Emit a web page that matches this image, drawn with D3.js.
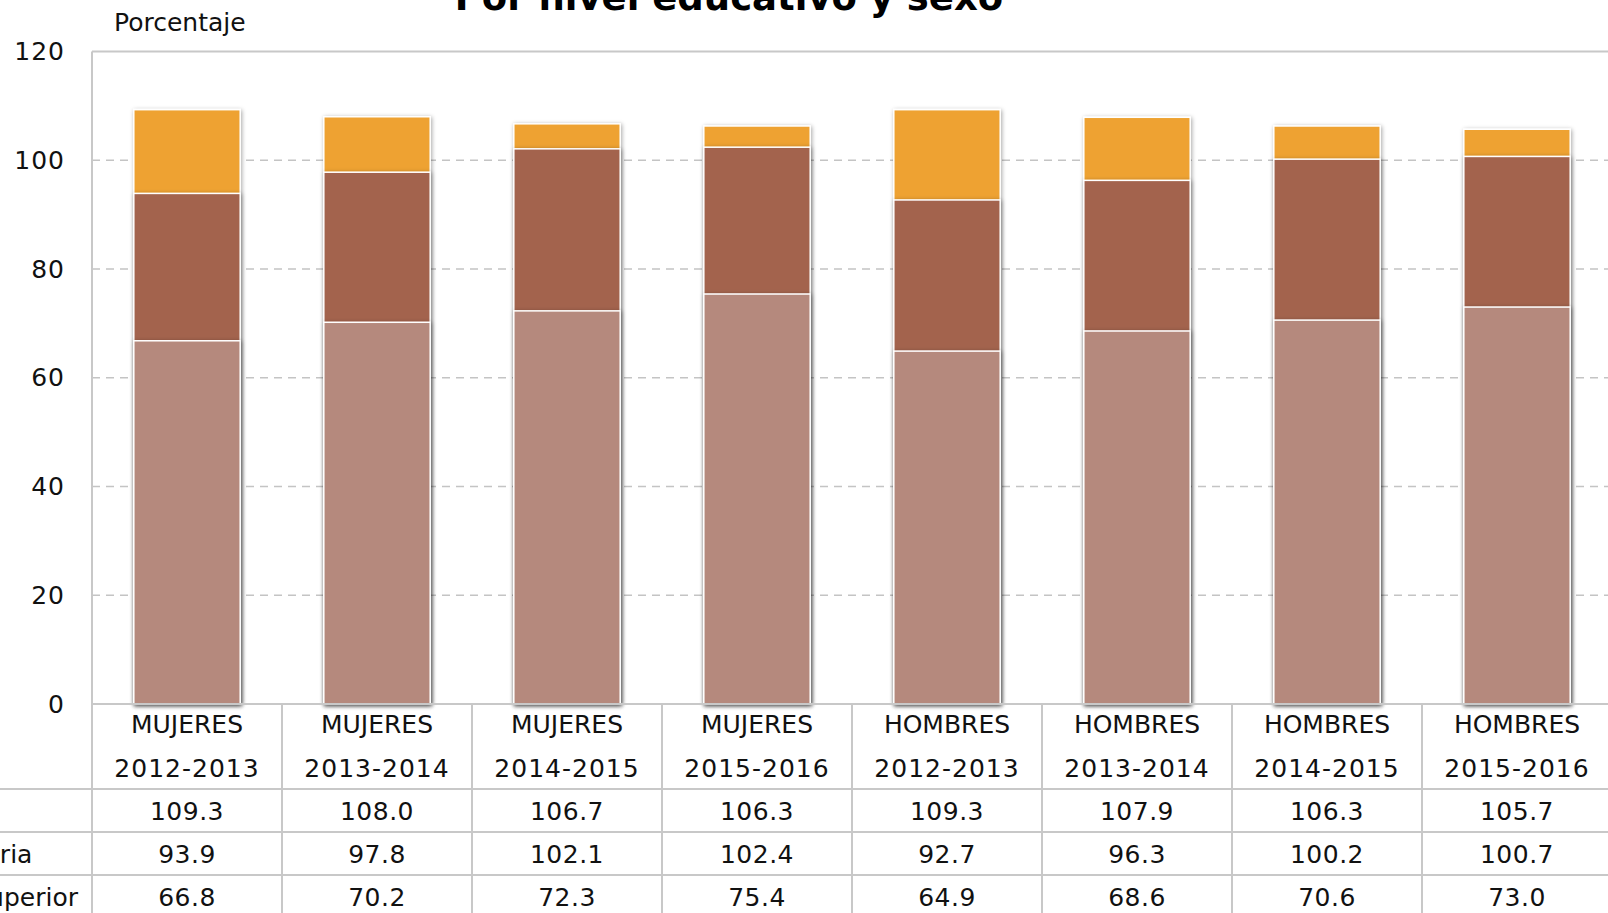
<!DOCTYPE html>
<html>
<head>
<meta charset="utf-8">
<script src="https://cdn.jsdelivr.net/npm/d3@7"></script>
<style>
  html, body { margin: 0; padding: 0; background: #fff; }
  svg { display: block; font-family: "DejaVu Sans", sans-serif; }
</style>
</head>
<body>
<svg id="chart" width="1608" height="913"></svg>
<script>
// ---- data ----
const categories = ["MUJERES|2012-2013","MUJERES|2013-2014","MUJERES|2014-2015","MUJERES|2015-2016",
                    "HOMBRES|2012-2013","HOMBRES|2013-2014","HOMBRES|2014-2015","HOMBRES|2015-2016"];
const seriesNames = ["Primaria", "Secundaria", "Media superior"];
const primaria      = [109.3, 108.0, 106.7, 106.3, 109.3, 107.9, 106.3, 105.7];
const secundaria    = [93.9, 97.8, 102.1, 102.4, 92.7, 96.3, 100.2, 100.7];
const mediaSuperior = [66.8, 70.2, 72.3, 75.4, 64.9, 68.6, 70.6, 73.0];
const yTicks = [0, 20, 40, 60, 80, 100, 120];
const chartTitle = "Por nivel educativo y sexo";
const yLabel = "Porcentaje";
const seriesColors = ["#EEA230", "#A3644E", "#B5897D"];

const series = [primaria, secundaria, mediaSuperior];

// ---- layout ----
const svg = d3.select("#chart");
const mLeft = 92, mRight = 1612, mTop = 51.5, mBottom = 704;
const rowTops = [789, 832, 875];

const x = d3.scaleBand().domain(categories).range([mLeft, mRight])
  .paddingInner(0.44).paddingOuter(0.22);
const y = d3.scaleLinear().domain([0, 120]).range([mBottom, mTop]);

// shadow filter
const defs = svg.append("defs");
const f = defs.append("filter").attr("id", "shadow")
  .attr("x", "-20%").attr("y", "-10%").attr("width", "140%").attr("height", "120%");
f.append("feDropShadow").attr("dx", 1).attr("dy", 1).attr("stdDeviation", 2)
  .attr("flood-color", "#000").attr("flood-opacity", 0.35);

// title (cut off at top in reference)
svg.append("text").attr("x", 729).attr("y", 10).attr("text-anchor", "middle")
  .attr("font-size", 37).attr("font-weight", "bold").attr("fill", "#000").text(chartTitle);

// y label
svg.append("text").attr("x", 114).attr("y", 31).attr("font-size", 25)
  .attr("fill", "#111").text(yLabel);

// grid lines (dashed)
svg.append("g").selectAll("line").data(yTicks.filter(t => t > 0 && t < 120)).join("line")
  .attr("x1", mLeft).attr("x2", 1608)
  .attr("y1", d => y(d)).attr("y2", d => y(d))
  .attr("stroke", "#c4c4c4").attr("stroke-width", 1.5).attr("stroke-dasharray", "8,6");

// frame top
svg.append("line").attr("x1", mLeft).attr("x2", 1608).attr("y1", y(120)).attr("y2", y(120))
  .attr("stroke", "#c8c8c8").attr("stroke-width", 2);

// y axis tick labels
const yAxis = d3.axisLeft(y).tickValues(yTicks).tickSize(0).tickPadding(27);
const gy = svg.append("g").attr("transform", `translate(${mLeft},0)`).call(yAxis);
gy.select(".domain").remove();
gy.selectAll("text").attr("font-size", 25).attr("fill", "#111")
  .attr("letter-spacing", 1)
  .attr("font-family", "DejaVu Sans, sans-serif");

// bars (overlapping, largest first)
const gBars = svg.append("g");
series.forEach((vals, si) => {
  gBars.append("g").selectAll("rect").data(vals).join("rect")
    .attr("x", (d, i) => x(categories[i]))
    .attr("width", x.bandwidth())
    .attr("y", d => y(d))
    .attr("height", d => y(0) - y(d))
    .attr("fill", seriesColors[si])
    .attr("stroke", "#fff").attr("stroke-width", 1.5)
    .attr("filter", "url(#shadow)");
});

// axis line / table
const tbl = svg.append("g").attr("stroke", "#c8c8c8").attr("stroke-width", 2);
tbl.append("line").attr("x1", mLeft).attr("x2", 1608).attr("y1", mBottom).attr("y2", mBottom);
rowTops.forEach(rt => tbl.append("line").attr("x1", 0).attr("x2", 1608).attr("y1", rt).attr("y2", rt));
const step = x.step();
d3.range(categories.length + 1).forEach(i => {
  const xx = x(categories[0]) - x.paddingOuter() * step + i * step;
  tbl.append("line").attr("x1", xx).attr("x2", xx)
    .attr("y1", i === 0 ? mTop : mBottom).attr("y2", 913);
});

// header labels
const gh = svg.append("g").attr("font-size", 25).attr("fill", "#111").attr("text-anchor", "middle");
categories.forEach(c => {
  const [sex, yr] = c.split("|");
  const cx = x(c) + x.bandwidth() / 2;
  gh.append("text").attr("x", cx).attr("y", 733).text(sex);
  gh.append("text").attr("x", cx).attr("y", 777).attr("letter-spacing", 1).text(yr);
});

// values and (cut off) row labels
const gv = svg.append("g").attr("font-size", 25).attr("fill", "#111");
series.forEach((vals, si) => {
  gv.append("g").attr("text-anchor", "middle").selectAll("text").data(vals).join("text")
    .attr("x", (d, i) => x(categories[i]) + x.bandwidth() / 2)
    .attr("y", rowTops[si] + 31)
    .attr("letter-spacing", 0.5)
    .text(d => d.toFixed(1));
  gv.append("text").attr("x", -108).attr("y", rowTops[si] + 31).text(seriesNames[si]);
});
</script>
</body>
</html>
